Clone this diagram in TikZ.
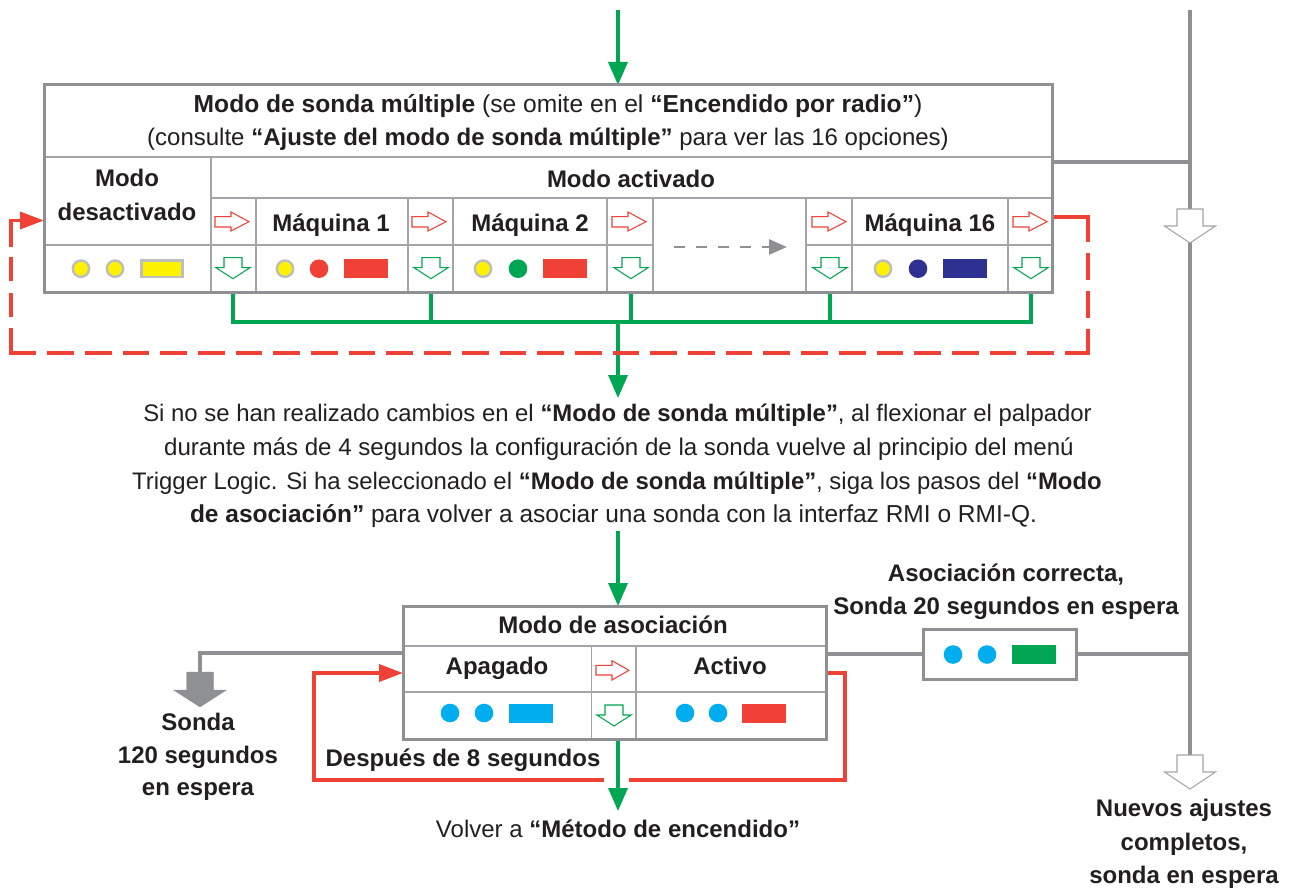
\documentclass[tikz,border=0pt]{standalone}
\usepackage{fontspec}
\setmainfont{Liberation Sans}
\usetikzlibrary{arrows.meta}
\definecolor{ink}{HTML}{231F20}
\definecolor{rgreen}{HTML}{00A651}
\definecolor{rred}{HTML}{EF4136}
\definecolor{rblue}{HTML}{00AEEF}
\definecolor{ryellow}{HTML}{FFF200}
\definecolor{rnavy}{HTML}{2E3192}
\definecolor{rgray}{HTML}{8E9093}
\definecolor{rline}{HTML}{A3A5A8}
\definecolor{rsil}{HTML}{BCBEC0}
\newcommand{\hdn}[7]{\draw[#7] (#1-#5,#2) -- (#1+#5,#2) -- (#1+#5,#3) -- (#1+#6,#3) -- (#1,#4) -- (#1-#6,#3) -- (#1-#5,#3) -- (#1-#5,#2) -- cycle;}
\newcommand{\hrt}[1]{\draw[hollowred] (#1,216.7) -- (#1+16,216.7) -- (#1+16,212) -- (#1+34,221.7) -- (#1+16,231) -- (#1+16,227) -- (#1,227) -- cycle;}
\newcommand{\grnd}[2]{\hdn{#1}{#2}{#2+10}{#2+21}{9}{17}{hollowgreen}}
\newcommand{\leds}[7]{%
  \fill[#4] (#1,#7) circle (9.3);
  \fill[#5] (#2,#7) circle (9.3);
  \fill[#6] (#3,#7-9.5) rectangle (#3+44,#7+9.5);}
\tikzset{
  x=1pt,y=-1pt,
  txt/.style={font=\fontsize{24}{28}\selectfont,text=ink,inner sep=0pt,anchor=base},
  btxt/.style={txt,font=\fontsize{24}{28}\selectfont\bfseries},
  frame/.style={draw=rgray,line width=3pt,inner sep=0pt,outer sep=0pt,minimum width=#1,anchor=north west},
  grid/.style={draw=rline,line width=1.5pt},
  grayline/.style={draw=rgray,line width=3.9pt},
  greenline/.style={draw=rgreen,line width=3.6pt},
  redline/.style={draw=rred,line width=3.7pt},
  greenarrow/.style={greenline,-{Triangle[length=23pt,width=19pt]}},
  redarrow/.style={redline,-{Triangle[length=24pt,width=17pt]}},
  hollowred/.style={draw=rred,line width=1.05pt,fill=white},
  hollowgreen/.style={draw=rgreen,line width=1.05pt,fill=white},
  hollowgray/.style={draw=rline,line width=1.05pt,fill=white},
  yellowled/.style={fill=ryellow,draw=rsil,line width=2.4pt},
}
\begin{document}
\begin{tikzpicture}
\useasboundingbox (0,0) rectangle (1292,888);
% boxes
\node[frame=1008pt,minimum height=207pt] (main) at (44,85) {};
\node[frame=423pt,minimum height=133pt] (assoc) at (403,606) {};
\node[frame=153pt,minimum height=50pt] (standby) at (923,629) {};
% named free ends
\coordinate (ttop) at (618,10);
\coordinate (ttip) at (618,85);
\coordinate (rtop) at (1190,10);
\coordinate (rj1) at (1190,162);
\coordinate (rj2) at (1190,654);
\coordinate (rend) at (1190,756);
\coordinate (g1) at (233,292); \coordinate (g2) at (431,292); \coordinate (g3) at (631,292); \coordinate (g4) at (830,292); \coordinate (g5) at (1031,292);
\coordinate (b1) at (233,322); \coordinate (b2) at (431,322); \coordinate (b3) at (631,322); \coordinate (b4) at (830,322); \coordinate (b5) at (1031,322);
\coordinate (bm) at (618,322); \coordinate (btip) at (618,398);
\coordinate (ptop) at (618,531); \coordinate (ptip) at (618,606);
\coordinate (abot) at (618,739); \coordinate (atip) at (618,811);
\coordinate (gl) at (200,653); \coordinate (gle) at (200,673);
% gray connectors
\draw[grayline] (rtop) -- (rend);
\draw[grayline] (main.east |- rj1) -- (rj1);
\draw[grayline] (assoc.east |- rj2) -- (standby.west |- rj2);
\draw[grayline] (standby.east |- rj2) -- (rj2);
\draw[grayline] (assoc.west |- gl) -- (gl) -- (gle);
% green connectors
\draw[greenarrow] (ttop) -- (ttip);
\draw[greenline,line cap=rect] (b1) -- (b5);
\foreach \i in {1,...,5}{\draw[greenline] (g\i) -- (b\i);}
\draw[greenarrow] (bm) -- (btip);
\draw[greenarrow] (ptop) -- (ptip);
\draw[greenarrow] (abot) -- (atip);
% red dashed
\draw[redline,miter limit=10] (1054,217) -- (1088,217) -- (1088,242);
\draw[redline,dash pattern=on 27pt off 11pt] (1088,253) -- (1088,318);
\draw[redline] (1088,329) -- (1088,353) -- (1065,353);
\draw[redline,dash pattern=on 26.7pt off 11pt] (1054,353) -- (47,353);
\draw[redline] (36,353) -- (11,353) -- (11,328);
\draw[redline,dash pattern=on 24pt off 12pt] (11,317) -- (11,257);
\draw[redarrow] (11,247) -- (11,220.5) -- (main.west |- 0,220.5);
% red solid
\draw[redline] (assoc.east |- 0,673) -- (845,673) -- (845,780) -- (629,780);
\draw[redarrow] (604,780) -- (314,780) -- (314,673) -- (assoc.west |- 0,673);
% main box grid
\draw[grid] (44,157) -- (1052,157);
\draw[grid] (211,198) -- (1052,198);
\draw[grid] (44,245) -- (653,245);
\draw[grid] (806,245) -- (1052,245);
\draw[grid] (211,157) -- (211,292);
\foreach \x in {256,408,453,607,653,806,852,1008}{\draw[grid] (\x,198) -- (\x,292);}
% association box grid
\draw[grid] (403,646) -- (826,646);
\draw[grid] (403,692) -- (826,692);
\draw[grid] (591.5,646) -- (591.5,739);
\draw[grid] (636,646) -- (636,739);
% redraw frames over grid
\draw[rgray,line width=3pt] (main.north west) rectangle (main.south east);
\draw[rgray,line width=3pt] (assoc.north west) rectangle (assoc.south east);
% hollow arrows
\foreach \x in {215,412,612,812,1013}{\hrt{\x}}
\draw[hollowred] (596,660.7+4.7) -- (612,660.7+4.7) -- (612,660.7) -- (629,670.3) -- (612,680) -- (612,675) -- (596,675) -- cycle;
\foreach \x in {233,431,631,830,1031}{\grnd{\x}{257.7}}
\grnd{614}{705}
\hdn{1190}{209}{226}{243}{13}{25.5}{hollowgray}
\hdn{1190}{755}{772}{789}{13}{25.5}{hollowgray}
\hdn{200}{672}{690}{707}{13.5}{26.5}{draw=rgray,fill=rgray,line width=0.3pt}
% dashed gray arrow
\coordinate (da) at (674,247); \coordinate (db) at (787,247);
\draw[draw=rgray,line width=2.7pt,dash pattern=on 11pt off 11pt,-{Triangle[length=18pt,width=15pt]}] (da) -- (db);
% indicator lights
\foreach \x in {81,115}{\draw[yellowled] (\x,268.7) circle (8.2);}
\draw[yellowled] (141.5,260.5) rectangle (182.5,277);
\draw[yellowled] (285,268.7) circle (8.2);
\fill[rred] (319,268.7) circle (9.3);
\fill[rred] (344,259.2) rectangle (388,278.2);
\draw[yellowled] (483,268.7) circle (8.2);
\fill[rgreen] (518,268.7) circle (9.3);
\fill[rred] (543,259.2) rectangle (587,278.2);
\draw[yellowled] (883,268.7) circle (8.2);
\fill[rnavy] (918,268.7) circle (9.3);
\fill[rnavy] (943,259.2) rectangle (987,278.2);
\leds{450}{484}{509}{rblue}{rblue}{rblue}{713}
\leds{685}{718}{741.5}{rblue}{rblue}{rred}{713}
\leds{953}{987}{1012}{rblue}{rblue}{rgreen}{654.5}
% texts
\node[txt,font=\fontsize{24.6}{28}\selectfont] (t1) at (558,113) {\textbf{Modo de sonda múltiple} (se omite en el \textbf{“Encendido por radio”})};
\node[txt] (t2) at (548,146) {(consulte \textbf{“Ajuste del modo de sonda múltiple”} para ver las 16 opciones)};
\node[btxt] (t3) at (127,186) {Modo};
\node[btxt] (t4) at (127,220) {desactivado};
\node[btxt] (t5) at (631,187) {Modo activado};
\node[btxt] (t6) at (331,231) {Máquina 1};
\node[btxt] (t7) at (530,231) {Máquina 2};
\node[btxt] (t8) at (930,231) {Máquina 16};
\node[txt,font=\fontsize{23.9}{28}\selectfont] (p1) at (617.5,421) {Si no se han realizado cambios en el \textbf{“Modo de sonda múltiple”}, al flexionar el palpador};
\node[txt,font=\fontsize{24.1}{28}\selectfont] (p2) at (619,455) {durante más de 4 segundos la configuración de la sonda vuelve al principio del menú};
\node[txt,font=\fontsize{23.9}{28}\selectfont] (p3) at (617,489) {Trigger Logic. Si ha seleccionado el \textbf{“Modo de sonda múltiple”}, siga los pasos del \textbf{“Modo}};
\node[txt,font=\fontsize{24.5}{28}\selectfont] (p4) at (613.5,522) {\textbf{de asociación”} para volver a asociar una sonda con la interfaz RMI o RMI-Q.};
\node[btxt] (c1) at (1006,581) {Asociación correcta,};
\node[btxt] (c2) at (1006,614) {Sonda 20 segundos en espera};
\node[btxt] (a1) at (613,633) {Modo de asociación};
\node[btxt] (a2) at (497,674) {Apagado};
\node[btxt] (a3) at (730,674) {Activo};
\node[btxt] (s1) at (198,730) {Sonda};
\node[btxt] (s2) at (198,763) {120 segundos};
\node[btxt] (s3) at (198,795) {en espera};
\node[btxt] (d1) at (463,766) {Después de 8 segundos};
\node[txt] (v1) at (618,837) {Volver a \textbf{“Método de encendido”}};
\node[btxt] (n1) at (1184,816) {Nuevos ajustes};
\node[btxt] (n2) at (1184,850) {completos,};
\node[btxt] (n3) at (1184,883) {sonda en espera};
\end{tikzpicture}
\end{document}
